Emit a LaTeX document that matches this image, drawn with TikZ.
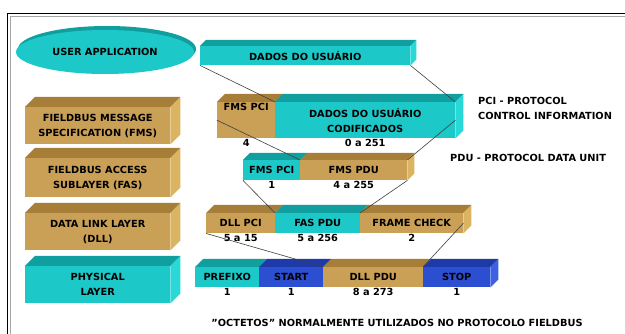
\documentclass[tikz,border=0pt]{standalone}
\usepackage{fontspec}
\setmainfont{DejaVu Sans}
\usetikzlibrary{positioning,calc,shapes.geometric}

\definecolor{tanF}{RGB}{201,160,86}
\definecolor{tanT}{RGB}{166,126,56}
\definecolor{tanS}{RGB}{219,180,98}
\definecolor{cyanF}{RGB}{28,200,200}
\definecolor{cyanT}{RGB}{16,158,158}
\definecolor{cyanS}{RGB}{42,216,216}
\definecolor{blueF}{RGB}{44,78,208}
\definecolor{blueT}{RGB}{30,58,168}
\definecolor{blueS}{RGB}{62,96,226}

\newcommand{\labfont}{\bfseries\fontsize{9.8}{15}\selectfont}
\newcommand{\topface}[3]{\fill[#2] (#1.north west) -- ++(#3,-#3) -- ($(#1.north east)+(#3,-#3)$) -- (#1.north east) -- cycle;}
\newcommand{\sideface}[3]{\fill[#2] (#1.north east) -- ++(#3,-#3) -- ($(#1.south east)+(#3,-#3)$) -- (#1.south east) -- cycle;}

\tikzset{
  box/.style={rectangle, anchor=north west, inner sep=0pt, align=center, font=\labfont},
  num/.style={inner sep=1pt, font=\labfont},
  link/.style={draw=black!75, line width=0.6pt},
  note/.style={anchor=west, inner sep=0pt, align=left, font=\labfont}
}

\begin{document}
\begin{tikzpicture}[x=1pt,y=-1pt]
\fill[white] (0,0) rectangle (625,334);
\useasboundingbox (0,0) rectangle (625,334);
\draw[line width=1.3pt] (7.5,334) -- (7.5,13.5) -- (625,13.5);
\draw[gray!70, line width=1.3pt] (10.5,334) -- (10.5,16.5) -- (625,16.5);

\fill[cyanT] (107,49) ellipse [x radius=89, y radius=23];
\node[ellipse, fill=cyanF, inner sep=0pt, minimum width=178pt, minimum height=44pt, font=\labfont] (userapp) at (105,52) {USER APPLICATION};

\node[box, fill=tanF, minimum width=145pt, minimum height=37pt] (fms) at (25,107) {FIELDBUS MESSAGE\\SPECIFICATION (FMS)};
\node[box, fill=tanF, minimum width=145pt, minimum height=39pt] (fas) at (25,158) {FIELDBUS ACCESS\\SUBLAYER (FAS)};
\node[box, fill=tanF, minimum width=145pt, minimum height=37pt] (dll) at (25,213) {DATA LINK LAYER\\(DLL)};
\node[box, fill=cyanF, minimum width=145pt, minimum height=37pt] (phy) at (25,266) {PHYSICAL\\LAYER};
\topface{fms}{tanT}{10} \sideface{fms}{tanS}{10}
\topface{fas}{tanT}{10} \sideface{fas}{tanS}{10}
\topface{dll}{tanT}{10} \sideface{dll}{tanS}{10}
\topface{phy}{cyanT}{10} \sideface{phy}{cyanS}{10}

\node[box, fill=cyanF, minimum width=210pt, minimum height=19pt] (dados) at (200,46) {DADOS DO USUÁRIO};
\topface{dados}{cyanT}{6} \sideface{dados}{cyanS}{6}

\node[box, fill=tanF, minimum width=58pt, minimum height=36pt] (fmspci) at (217,102) {FMS PCI\\[12pt]};
\node[box, fill=cyanF, minimum width=180pt, minimum height=36pt] (dadoscod) at (275,102) {DADOS DO USUÁRIO\\CODIFICADOS};
\topface{fmspci}{tanT}{8} \topface{dadoscod}{cyanT}{8} \sideface{dadoscod}{cyanS}{8}
\node[num, below=0pt of fmspci] (n4) {4};
\node[num, below=0pt of dadoscod] (n251) {0 a 251};

\node[box, fill=cyanF, minimum width=57pt, minimum height=20pt] (fmspcib) at (243,160) {FMS PCI};
\node[box, fill=tanF, minimum width=107pt, minimum height=20pt] (fmspdu) at (300,160) {FMS PDU};
\topface{fmspcib}{cyanT}{7} \topface{fmspdu}{tanT}{7} \sideface{fmspdu}{tanS}{7}
\node[num, below=0pt of fmspcib] (n1a) {1};
\node[num, below=0pt of fmspdu] (n255) {4 a 255};

\node[box, fill=tanF, minimum width=69pt, minimum height=20pt] (dllpci) at (206,213) {DLL PCI};
\node[box, fill=cyanF, minimum width=85pt, minimum height=20pt] (faspdu) at (275,213) {FAS PDU};
\node[box, fill=tanF, minimum width=103pt, minimum height=20pt] (framecheck) at (360,213) {FRAME CHECK};
\topface{dllpci}{tanT}{8} \topface{faspdu}{cyanT}{8} \topface{framecheck}{tanT}{8} \sideface{framecheck}{tanS}{8}
\node[num, below=0pt of dllpci] (n15) {5 a 15};
\node[num, below=0pt of faspdu] (n256) {5 a 256};
\node[num, below=0pt of framecheck] (n2) {2};

\node[box, fill=cyanF, minimum width=64pt, minimum height=20pt] (prefixo) at (195,267) {PREFIXO};
\node[box, fill=blueF, minimum width=64pt, minimum height=20pt] (start) at (259,267) {START};
\node[box, fill=tanF, minimum width=100pt, minimum height=20pt] (dllpdu) at (323,267) {DLL PDU};
\node[box, fill=blueF, minimum width=67pt, minimum height=20pt] (stop) at (423,267) {STOP};
\topface{prefixo}{cyanT}{8} \topface{start}{blueT}{8} \topface{dllpdu}{tanT}{8} \topface{stop}{blueT}{8} \sideface{stop}{blueS}{8}
\node[num, below=0pt of prefixo] (n1b) {1};
\node[num, below=0pt of start] (n1c) {1};
\node[num, below=0pt of dllpdu] (n273) {8 a 273};
\node[num, below=0pt of stop] (n1d) {1};

\draw[link] (dados.south west) -- (dadoscod.north west);
\draw[link] (dados.south east) -- (dadoscod.north east);
\draw[link] (fmspci.west) -- (fmspdu.north west);
\draw[link] (dadoscod.east) -- (fmspdu.north east);
\draw[link] (fmspcib.south west) -- (faspdu.north west);
\draw[link] (fmspdu.south east) -- (framecheck.north west);
\draw[link] (dllpci.south west) -- (dllpdu.north west);
\draw[link] (framecheck.east) -- (stop.north west);

\node[note] (pci) at (478,108) {PCI - PROTOCOL\\CONTROL INFORMATION};
\node[note] (pdu) at (450,158) {PDU - PROTOCOL DATA UNIT};
\node[font=\labfont] (octetos) at (397,323) {"OCTETOS" NORMALMENTE UTILIZADOS NO PROTOCOLO FIELDBUS};
\end{tikzpicture}
\end{document}
